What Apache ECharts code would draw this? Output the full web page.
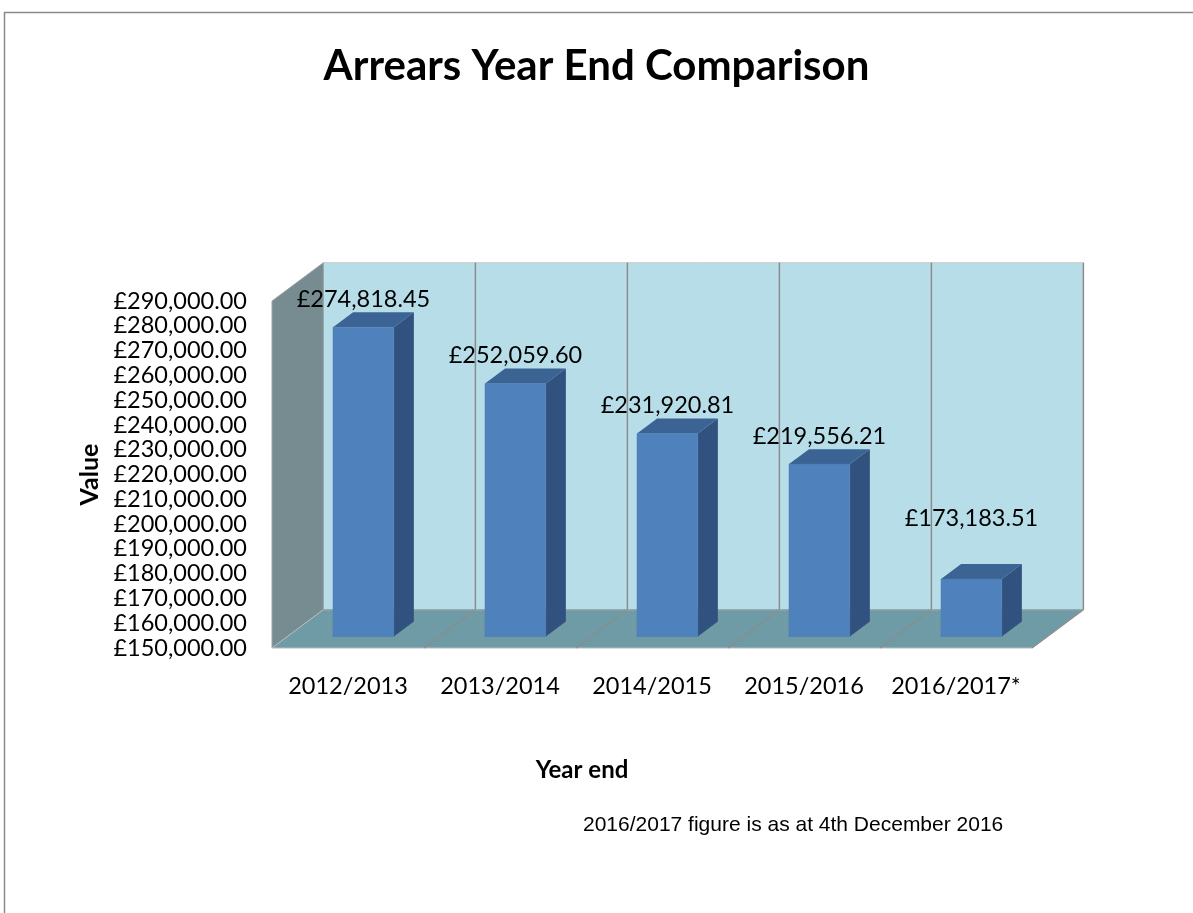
<!DOCTYPE html>
<html>
<head>
<meta charset="utf-8">
<script src="https://cdn.jsdelivr.net/npm/echarts@6/dist/echarts.min.js"></script>
<style>
  html, body { margin: 0; padding: 0; background: #ffffff; }
  #chart { width: 1193px; height: 913px; }
</style>
</head>
<body>
<div id="chart"></div>
<script>
// ---- data ----
const categories = ['2012/2013', '2013/2014', '2014/2015', '2015/2016', '2016/2017*'];
const values = [274818.45, 252059.60, 231920.81, 219556.21, 173183.51];
const yMin = 150000;
const yMax = 290000;
const yStep = 10000;
const titleText = 'Arrears Year End Comparison';
const yName = 'Value';
const xName = 'Year end';
const noteText = '2016/2017 figure is as at 4th December 2016';

// ---- style constants ----
const FONT = 'Lato, "Open Sans", sans-serif';
const DX = 51.4, DY = -38.3;       // 3D depth of the plot box
const F1 = 0.30, F2 = 0.69;        // bar front/back position within the depth
const BAR_FRAC = 0.40;             // bar width as fraction of band
const COL_BACK = '#b7dee8', COL_SIDE = '#768c90', COL_FLOOR = '#6e9ba5';
const COL_GRID = '#8c8c8c';
const COL_FRONT = '#4f81bd', COL_RIGHT = '#31527f', COL_TOP = '#3b6494';

function money(v) {
  return '£' + Number(v).toLocaleString('en-GB', { minimumFractionDigits: 2, maximumFractionDigits: 2 });
}

const chart = echarts.init(document.getElementById('chart'), null, { renderer: 'canvas' });

function renderWalls(params, api) {
  const n = categories.length;
  const band = api.size([1, 0])[0];
  const pTop = api.coord([0, yMax]);
  const pBot = api.coord([0, yMin]);
  const x0 = pBot[0] - band / 2;
  const x1 = api.coord([n - 1, yMin])[0] + band / 2;
  const yT = pTop[1], yB = pBot[1];
  const children = [];
  children.push({ type: 'polygon', shape: { points: [[x0 + DX, yT + DY], [x1 + DX, yT + DY], [x1 + DX, yB + DY], [x0 + DX, yB + DY]] },
    style: { fill: COL_BACK, stroke: '#c9c9c9', lineWidth: 1 } });
  children.push({ type: 'polygon', shape: { points: [[x0, yT], [x0 + DX, yT + DY], [x0 + DX, yB + DY], [x0, yB]] },
    style: { fill: COL_SIDE, stroke: '#9aa6a9', lineWidth: 1 } });
  children.push({ type: 'polygon', shape: { points: [[x0, yB], [x0 + DX, yB + DY], [x1 + DX, yB + DY], [x1, yB]] },
    style: { fill: COL_FLOOR, stroke: '#b5bcbe', lineWidth: 1 } });
  for (let i = 1; i <= n; i++) {
    const xb = x0 + i * band;
    children.push({ type: 'line', shape: { x1: xb + DX, y1: yT + DY, x2: xb + DX, y2: yB + DY },
      style: { stroke: COL_GRID, lineWidth: 1.5 } });
    children.push({ type: 'line', shape: { x1: xb + DX, y1: yB + DY, x2: xb, y2: yB },
      style: { stroke: COL_GRID, lineWidth: 1.2 } });
  }
  children.push({ type: 'line', shape: { x1: x0 + DX, y1: yB + DY, x2: x1 + DX, y2: yB + DY },
    style: { stroke: '#8fa3a8', lineWidth: 1 } });
  return { type: 'group', children: children };
}

function renderBar(params, api) {
  const idx = api.value(0);
  const v = api.value(1);
  const top = api.coord([idx, v]);
  const base = api.coord([idx, yMin]);
  const band = api.size([1, 0])[0];
  const w = band * BAR_FRAC;
  const fx = F1 * DX, fy = F1 * DY, bx = F2 * DX, by = F2 * DY;
  const xl = top[0] - w / 2, xr = top[0] + w / 2;
  const yt = top[1], yb = base[1];
  const lift = (idx === categories.length - 1) ? 46 : 13;
  return {
    type: 'group',
    children: [
      { type: 'polygon', shape: { points: [[xr + fx, yt + fy], [xr + bx, yt + by], [xr + bx, yb + by], [xr + fx, yb + fy]] },
        style: { fill: COL_RIGHT } },
      { type: 'polygon', shape: { points: [[xl + fx, yt + fy], [xl + bx, yt + by], [xr + bx, yt + by], [xr + fx, yt + fy]] },
        style: { fill: COL_TOP } },
      { type: 'rect', shape: { x: xl + fx, y: yt + fy, width: w, height: yb - yt },
        style: { fill: COL_FRONT, stroke: '#4a78ae', lineWidth: 0.5 } },
      { type: 'text', x: top[0] + fx, y: yt + by - lift,
        style: { text: money(v), fill: '#000', font: '23.5px ' + FONT, textAlign: 'center', textVerticalAlign: 'middle' } }
    ]
  };
}

const option = {
  backgroundColor: '#ffffff',
  animation: false,
  title: {
    text: titleText,
    left: 'center',
    top: 40,
    textStyle: { fontFamily: FONT, fontSize: 42, fontWeight: 'bold', color: '#000' }
  },
  grid: { left: 272, right: 161, top: 301, bottom: 265, containLabel: false },
  xAxis: {
    type: 'category',
    data: categories,
    axisLine: { show: false },
    axisTick: { show: false },
    splitLine: { show: false },
    axisLabel: { fontFamily: FONT, fontSize: 23.5, color: '#000', margin: 26, interval: 0 },
    name: xName,
    nameLocation: 'middle',
    nameGap: 110,
    nameTextStyle: { fontFamily: FONT, fontSize: 24, fontWeight: 'bold', color: '#000', padding: [0, 140, 0, 0] }
  },
  yAxis: {
    type: 'value',
    min: yMin,
    max: yMax,
    interval: yStep,
    axisLine: { show: false },
    axisTick: { show: false },
    splitLine: { show: false },
    axisLabel: { fontFamily: FONT, fontSize: 23.5, color: '#000', margin: 25, formatter: money },
    name: yName,
    nameLocation: 'middle',
    nameRotate: 90,
    nameGap: 170,
    nameTextStyle: { fontFamily: FONT, fontSize: 25, fontWeight: 'bold', color: '#000' }
  },
  graphic: [
    { type: 'rect', z: -1, shape: { x: 4.5, y: 12.5, width: 1300, height: 1000 },
      style: { fill: 'none', stroke: '#8a8a8a', lineWidth: 1.5 } },
    { type: 'text', left: 583, top: 815,
      style: { text: noteText, fill: '#000', font: '21px "Liberation Sans", Arial, sans-serif' } }
  ],
  series: [
    { type: 'custom', renderItem: renderWalls, data: [[0, yMin]], silent: true, clip: false },
    { type: 'custom', renderItem: renderBar, data: values.map((v, i) => [i, v]), silent: true, clip: false }
  ]
};
chart.setOption(option);
</script>
</body>
</html>
